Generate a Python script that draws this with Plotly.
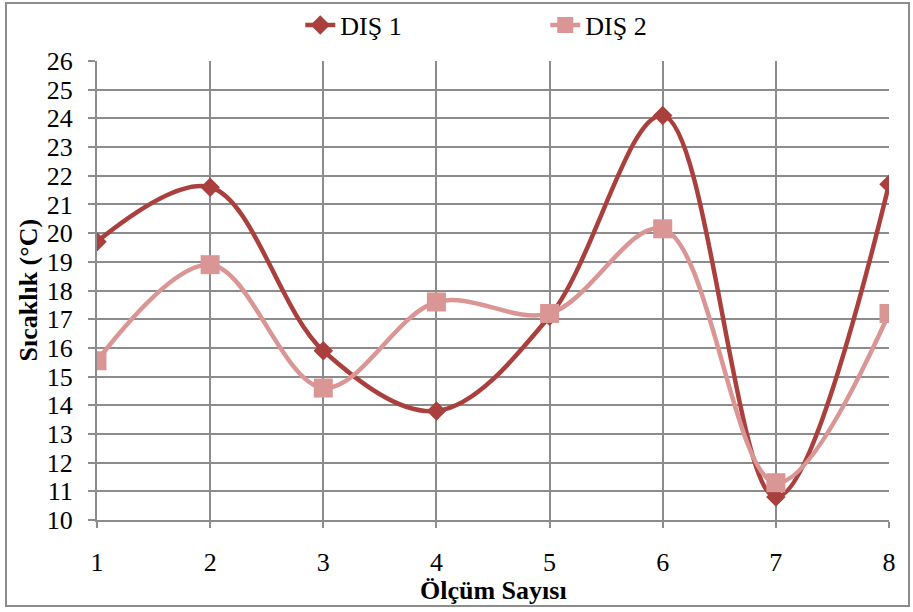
import plotly.graph_objects as go

olcum = [1, 2, 3, 4, 5, 6, 7, 8]
dis1 = [19.7, 21.6, 15.9, 13.8, 17.1, 24.1, 10.8, 21.7]
dis2 = [15.55, 18.9, 14.6, 17.6, 17.2, 20.15, 11.3, 17.2]

FONT = "Liberation Serif"
GRID = "#8c8c8c"
FS = 26

fig = go.Figure()
fig.add_trace(go.Scatter(
    x=olcum, y=dis1, name="DIŞ 1", mode="lines+markers",
    line=dict(color="#A9403D", width=4.5, shape="spline", smoothing=1.0),
    marker=dict(symbol="diamond", size=15, color="#A9403D"),
))
fig.add_trace(go.Scatter(
    x=olcum, y=dis2, name="DIŞ 2", mode="lines+markers",
    line=dict(color="#D99694", width=4.5, shape="spline", smoothing=1.0),
    marker=dict(symbol="square", size=19, color="#D99694"),
))

L, R, T, B = 97, 24, 61, 92
W, H = 913, 612
pw, ph = W - L - R, H - T - B

fig.update_layout(
    width=W, height=H,
    margin=dict(l=L, r=R, t=T, b=B, autoexpand=False),
    paper_bgcolor="white", plot_bgcolor="white",
    font=dict(family=FONT, size=FS, color="black"),
    showlegend=True,
    legend=dict(orientation="h", x=0.566, xanchor="center", y=1.0 + (T - 25) / ph,
                yanchor="middle", font=dict(size=FS, family=FONT),
                entrywidth=200, entrywidthmode="pixels",
                bgcolor="rgba(0,0,0,0)"),
    xaxis=dict(
        range=[1, 8], tickmode="array", tickvals=olcum, ticktext=[str(v) for v in olcum],
        showgrid=True, gridcolor=GRID, gridwidth=2,
        showline=True, linecolor=GRID, linewidth=2,
        ticks="outside", ticklen=6, tickcolor=GRID, tickwidth=2,
        ticklabelstandoff=12, tickfont=dict(size=FS, family=FONT),
        zeroline=False, automargin=False,
    ),
    yaxis=dict(
        range=[10, 26], dtick=1, tick0=10,
        showgrid=True, gridcolor=GRID, gridwidth=2,
        showline=True, linecolor=GRID, linewidth=2,
        ticks="outside", ticklen=7, tickcolor=GRID, tickwidth=2,
        ticklabelstandoff=10, tickfont=dict(size=FS, family=FONT),
        zeroline=False, automargin=False,
    ),
    annotations=[
        dict(text="<b>Ölçüm Sayısı</b>", xref="paper", yref="paper",
             x=0.5, y=(H - B - 590) / ph, xanchor="center", yanchor="middle",
             showarrow=False, font=dict(size=FS, family=FONT)),
        dict(text="<b>Sıcaklık (°C)</b>", xref="paper", yref="paper",
             x=(28 - L) / pw, y=0.5, xanchor="center", yanchor="middle",
             textangle=-90, showarrow=False, font=dict(size=FS, family=FONT)),
    ],
    shapes=[dict(
        type="rect", xref="paper", yref="paper", layer="below",
        x0=(6 - L) / pw, x1=(909 - L) / pw,
        y0=(H - B - 606) / ph, y1=(H - B - 3) / ph,
        line=dict(color="#8c8c8c", width=2), fillcolor="rgba(0,0,0,0)",
    )],
)

fig.write_html("out.html")
